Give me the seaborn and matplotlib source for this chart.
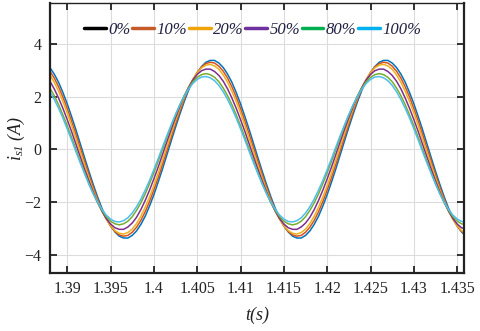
import numpy as np
import pandas as pd
import seaborn as sns
import matplotlib.pyplot as plt
from matplotlib.lines import Line2D
from matplotlib.ticker import FormatStrFormatter

# zaman ekseni (0.5 ms adim, 1.388 s - 1.436 s)
t = np.round(np.linspace(1.388, 1.436, 97), 4)

# stator akimi i_s1 (A)
i_0 = [3.10, 2.85, 2.54, 2.15, 1.72, 1.24, 0.74, 0.21, -0.32, -0.84, -1.34, -1.81, -2.24, -2.60, -2.91, -3.14, -3.30, -3.37, -3.37, -3.27,
       -3.10, -2.85, -2.54, -2.15, -1.72, -1.24, -0.74, -0.21, 0.32, 0.84, 1.34, 1.81, 2.24, 2.60, 2.91, 3.14, 3.30, 3.37, 3.37, 3.27,
       3.10, 2.85, 2.54, 2.15, 1.72, 1.24, 0.74, 0.21, -0.32, -0.84, -1.34, -1.81, -2.24, -2.60, -2.91, -3.14, -3.30, -3.37, -3.37, -3.27,
       -3.10, -2.85, -2.54, -2.15, -1.72, -1.24, -0.74, -0.21, 0.32, 0.84, 1.34, 1.81, 2.24, 2.60, 2.91, 3.14, 3.30, 3.37, 3.37, 3.27,
       3.10, 2.85, 2.54, 2.15, 1.72, 1.24, 0.74, 0.21, -0.32, -0.84, -1.34, -1.81, -2.24, -2.60, -2.91, -3.14, -3.30]
i_10 = [2.96, 2.70, 2.37, 1.98, 1.54, 1.07, 0.57, 0.05, -0.46, -0.97, -1.45, -1.90, -2.30, -2.64, -2.92, -3.12, -3.25, -3.30, -3.27, -3.15,
        -2.96, -2.70, -2.37, -1.98, -1.54, -1.07, -0.57, -0.05, 0.46, 0.97, 1.45, 1.90, 2.30, 2.64, 2.92, 3.12, 3.25, 3.30, 3.27, 3.15,
        2.96, 2.70, 2.37, 1.98, 1.54, 1.07, 0.57, 0.05, -0.46, -0.97, -1.45, -1.90, -2.30, -2.64, -2.92, -3.12, -3.25, -3.30, -3.27, -3.15,
        -2.96, -2.70, -2.37, -1.98, -1.54, -1.07, -0.57, -0.05, 0.46, 0.97, 1.45, 1.90, 2.30, 2.64, 2.92, 3.12, 3.25, 3.30, 3.27, 3.15,
        2.96, 2.70, 2.37, 1.98, 1.54, 1.07, 0.57, 0.05, -0.46, -0.97, -1.45, -1.90, -2.30, -2.64, -2.92, -3.12, -3.25]
i_20 = [2.82, 2.54, 2.20, 1.81, 1.37, 0.90, 0.40, -0.10, -0.60, -1.09, -1.55, -1.97, -2.35, -2.66, -2.91, -3.09, -3.19, -3.22, -3.16, -3.03,
        -2.82, -2.54, -2.20, -1.81, -1.37, -0.90, -0.40, 0.10, 0.60, 1.09, 1.55, 1.97, 2.35, 2.66, 2.91, 3.09, 3.19, 3.22, 3.16, 3.03,
        2.82, 2.54, 2.20, 1.81, 1.37, 0.90, 0.40, -0.10, -0.60, -1.09, -1.55, -1.97, -2.35, -2.66, -2.91, -3.09, -3.19, -3.22, -3.16, -3.03,
        -2.82, -2.54, -2.20, -1.81, -1.37, -0.90, -0.40, 0.10, 0.60, 1.09, 1.55, 1.97, 2.35, 2.66, 2.91, 3.09, 3.19, 3.22, 3.16, 3.03,
        2.82, 2.54, 2.20, 1.81, 1.37, 0.90, 0.40, -0.10, -0.60, -1.09, -1.55, -1.97, -2.35, -2.66, -2.91, -3.09, -3.19]
i_50 = [2.58, 2.29, 1.94, 1.55, 1.12, 0.67, 0.19, -0.29, -0.76, -1.21, -1.63, -2.02, -2.35, -2.63, -2.84, -2.98, -3.04, -3.04, -2.95, -2.80,
        -2.58, -2.29, -1.94, -1.55, -1.12, -0.67, -0.19, 0.29, 0.76, 1.21, 1.63, 2.02, 2.35, 2.63, 2.84, 2.98, 3.04, 3.04, 2.95, 2.80,
        2.58, 2.29, 1.94, 1.55, 1.12, 0.67, 0.19, -0.29, -0.76, -1.21, -1.63, -2.02, -2.35, -2.63, -2.84, -2.98, -3.04, -3.04, -2.95, -2.80,
        -2.58, -2.29, -1.94, -1.55, -1.12, -0.67, -0.19, 0.29, 0.76, 1.21, 1.63, 2.02, 2.35, 2.63, 2.84, 2.98, 3.04, 3.04, 2.95, 2.80,
        2.58, 2.29, 1.94, 1.55, 1.12, 0.67, 0.19, -0.29, -0.76, -1.21, -1.63, -2.02, -2.35, -2.63, -2.84, -2.98, -3.04]
i_80 = [2.32, 2.03, 1.69, 1.30, 0.89, 0.45, 0.00, -0.45, -0.89, -1.30, -1.69, -2.03, -2.32, -2.56, -2.73, -2.83, -2.87, -2.83, -2.73, -2.56,
        -2.32, -2.03, -1.69, -1.30, -0.89, -0.45, 0.00, 0.45, 0.89, 1.30, 1.69, 2.03, 2.32, 2.56, 2.73, 2.83, 2.87, 2.83, 2.73, 2.56,
        2.32, 2.03, 1.69, 1.30, 0.89, 0.45, 0.00, -0.45, -0.89, -1.30, -1.69, -2.03, -2.32, -2.56, -2.73, -2.83, -2.87, -2.83, -2.73, -2.56,
        -2.32, -2.03, -1.69, -1.30, -0.89, -0.45, 0.00, 0.45, 0.89, 1.30, 1.69, 2.03, 2.32, 2.56, 2.73, 2.83, 2.87, 2.83, 2.73, 2.56,
        2.32, 2.03, 1.69, 1.30, 0.89, 0.45, 0.00, -0.45, -0.89, -1.30, -1.69, -2.03, -2.32, -2.56, -2.73, -2.83, -2.87]
i_100 = [2.18, 1.89, 1.55, 1.18, 0.77, 0.35, -0.09, -0.52, -0.93, -1.33, -1.69, -2.01, -2.28, -2.50, -2.65, -2.74, -2.76, -2.71, -2.60, -2.42,
         -2.18, -1.89, -1.55, -1.18, -0.77, -0.35, 0.09, 0.52, 0.93, 1.33, 1.69, 2.01, 2.28, 2.50, 2.65, 2.74, 2.76, 2.71, 2.60, 2.42,
         2.18, 1.89, 1.55, 1.18, 0.77, 0.35, -0.09, -0.52, -0.93, -1.33, -1.69, -2.01, -2.28, -2.50, -2.65, -2.74, -2.76, -2.71, -2.60, -2.42,
         -2.18, -1.89, -1.55, -1.18, -0.77, -0.35, 0.09, 0.52, 0.93, 1.33, 1.69, 2.01, 2.28, 2.50, 2.65, 2.74, 2.76, 2.71, 2.60, 2.42,
         2.18, 1.89, 1.55, 1.18, 0.77, 0.35, -0.09, -0.52, -0.93, -1.33, -1.69, -2.01, -2.28, -2.50, -2.65, -2.74, -2.76]

labels = ['0%', '10%', '20%', '50%', '80%', '100%']
series = [i_0, i_10, i_20, i_50, i_80, i_100]
x_ticks = [1.39, 1.395, 1.4, 1.405, 1.41, 1.415, 1.42, 1.425, 1.43, 1.435]
y_ticks = [-4, -2, 0, 2, 4]

# cizgi renkleri (MATLAB varsayilan) ve lejant renkleri
line_colors = ['#0072BD', '#D95319', '#EDB120', '#7E2F8E', '#77AC30', '#4DBEEE']
legend_colors = ['#000000', '#C55A28', '#F0A30A', '#7030A0', '#00B050', '#00B0F0']

df = pd.concat([pd.DataFrame({'t': t, 'i': s, 'yuk': lab})
                for s, lab in zip(series, labels)], ignore_index=True)

sns.set_theme(style='whitegrid')
plt.rcParams['font.family'] = ['Liberation Serif', 'DejaVu Serif']
plt.rcParams['mathtext.fontset'] = 'custom'
plt.rcParams['mathtext.it'] = 'Liberation Serif:italic'
plt.rcParams['mathtext.rm'] = 'Liberation Serif:italic'
plt.rcParams['mathtext.default'] = 'it'

fig = plt.figure(figsize=(4.8, 3.31), dpi=100)
ax = fig.add_axes([0.104, 0.175, 0.863, 0.816])

sns.lineplot(data=df, x='t', y='i', hue='yuk', palette=line_colors,
             linewidth=1.1, legend=False, ax=ax)

ax.set_xlim(1.388, 1.4358)
ax.set_ylim(-4.7, 5.55)
ax.set_xticks(x_ticks)
ax.set_yticks(y_ticks)
ax.xaxis.set_major_formatter(FormatStrFormatter('%g'))
ax.grid(True, color='#dcdcdc', linewidth=0.8)
ax.set_facecolor('white')

for side in ['left', 'bottom', 'right']:
    ax.spines[side].set_color('#222222')
    ax.spines[side].set_linewidth(1.6)
ax.spines['top'].set_color('#222222')
ax.spines['top'].set_linewidth(1.0)

ax.tick_params(axis='both', direction='in', length=5, width=1.3, color='#222222',
               labelsize=11.5, labelcolor='#222222', top=True, right=True,
               bottom=True, left=True, pad=6)

ax.set_xlabel('t(s)', fontsize=13, fontstyle='italic', color='#222222')
ax.xaxis.set_label_coords(0.5, -0.125)
ax.set_ylabel(r'$i_{s1}\ (A)$', fontsize=13, color='#222222')
ax.yaxis.set_label_coords(-0.055, 0.5)

handles = [Line2D([0], [0], color=c, linewidth=2.5) for c in legend_colors]
leg = ax.legend(handles, labels, loc='upper center', bbox_to_anchor=(0.49, 0.985),
                ncol=6, frameon=False, handlelength=1.3, handletextpad=0.15,
                columnspacing=0.1, prop={'family': 'Liberation Serif',
                                         'style': 'italic', 'size': 12})
for txt in leg.get_texts():
    txt.set_color('#222244')

fig.savefig('out.png', dpi=100, facecolor='white')
